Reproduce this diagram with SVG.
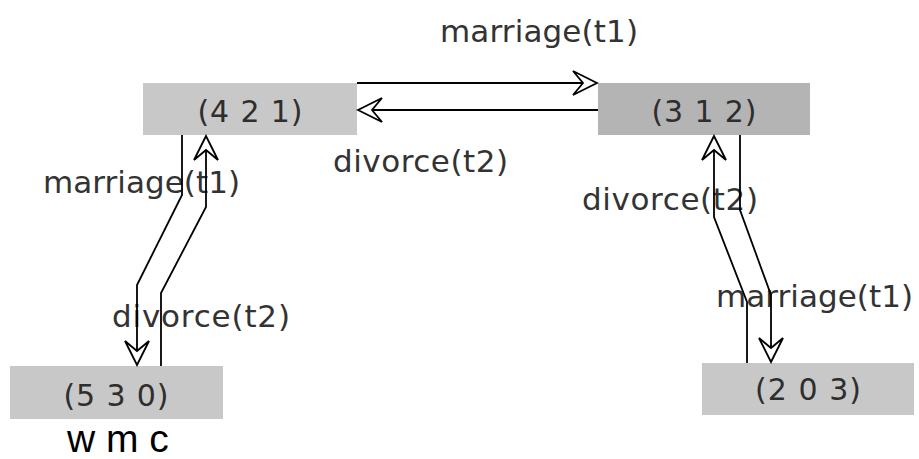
<svg xmlns="http://www.w3.org/2000/svg" width="919" height="459" viewBox="0 0 919 459">
<style>
.box{fill:#c8c8c8}
.box2{fill:#b4b4b4}
.nt{font-family:"DejaVu Sans",sans-serif;font-size:30px;fill:#2e2e2e;text-anchor:middle}
.lb{font-family:"DejaVu Sans",sans-serif;font-size:31px;fill:#333}
.cn{fill:none;stroke:#000;stroke-width:1.8;marker-end:url(#ah)}
</style>
<defs>
<marker id="ah" markerUnits="userSpaceOnUse" viewBox="-27 -14 29 28" refX="0" refY="0" markerWidth="29" markerHeight="28" orient="auto">
<path d="M0,0 L-24,-12 L-14,0 L-24,12 Z" fill="#fff" stroke="#000" stroke-width="1.8" stroke-linejoin="miter"/>
</marker>
</defs>
<rect width="919" height="459" fill="#fff"/>
<g id="node-421"><rect class="box" x="143" y="83" width="214" height="52"/><text class="nt" x="250" y="122" textLength="105" lengthAdjust="spacing">(4 2 1)</text></g>
<g id="node-312"><rect class="box2" x="598" y="83" width="212" height="52"/><text class="nt" x="704" y="122" textLength="105" lengthAdjust="spacing">(3 1 2)</text></g>
<g id="node-530"><rect class="box" x="10" y="366" width="213" height="53"/><text class="nt" x="116" y="406" textLength="105" lengthAdjust="spacing">(5 3 0)</text></g>
<g id="node-203"><rect class="box" x="702" y="363" width="212" height="52"/><text class="nt" x="808" y="400" textLength="106" lengthAdjust="spacing">(2 0 3)</text></g>
<g id="labels">
<text class="lb" x="440" y="42" textLength="198" lengthAdjust="spacing">marriage(t1)</text>
<text class="lb" x="333" y="172" textLength="175" lengthAdjust="spacing">divorce(t2)</text>
<text class="lb" x="43" y="193" textLength="197" lengthAdjust="spacing">marriage(t1)</text>
<text class="lb" x="112" y="327" textLength="178" lengthAdjust="spacing">divorce(t2)</text>
<text class="lb" x="582" y="210" textLength="176" lengthAdjust="spacing">divorce(t2)</text>
<text class="lb" x="716" y="307" textLength="197" lengthAdjust="spacing">marriage(t1)</text>
</g>
<g id="connectors">
<path class="cn" d="M357,83 L597,83"/>
<path class="cn" d="M598,110 L358,110"/>
<path class="cn" d="M182,135 L182,195 L137,285 L137,365"/>
<path class="cn" d="M161,366 L161,293 L206,207 L206,136"/>
<path class="cn" d="M747,363 L747,302 L714,217 L714,136"/>
<path class="cn" d="M740,135 L740,210 L771,295 L771,362"/>
</g>
<text x="67" y="452" font-family="'Liberation Sans',Arial,sans-serif" font-size="39" fill="#000">w m c</text>
</svg>
